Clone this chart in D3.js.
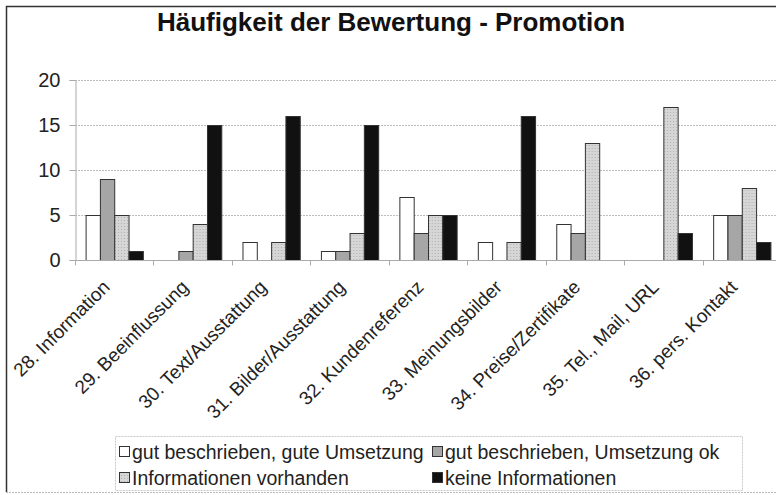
<!DOCTYPE html>
<html><head><meta charset="utf-8">
<script src="https://cdn.jsdelivr.net/npm/d3@7"></script>
<style>body{margin:0;background:#fff}svg{display:block}text{font-family:"Liberation Sans",Arial,sans-serif}</style>
</head><body>
<script>
const title = "Häufigkeit der Bewertung - Promotion";
const categories = ["28. Information","29. Beeinflussung","30. Text/Ausstattung","31. Bilder/Ausstattung","32. Kundenreferenz","33. Meinungsbilder","34. Preise/Zertifikate","35. Tel., Mail, URL","36. pers. Kontakt"];
const seriesNames = ["gut beschrieben, gute Umsetzung","gut beschrieben, Umsetzung ok","Informationen vorhanden","keine Informationen"];
const gutGut = [5,0,2,1,7,2,4,0,5];
const gutOk = [9,1,0,1,3,0,3,0,5];
const vorhanden = [5,4,2,3,5,2,13,17,8];
const keine = [1,15,16,15,5,16,0,3,2];
const yTicks = [0,5,10,15,20];
const seriesValues = [gutGut, gutOk, vorhanden, keine];
const fills = ["#ffffff","#a6a6a6","url(#dots)","#111111"];

const W = 776, H = 495;
const svg = d3.select("body").append("svg").attr("width", W).attr("height", H);
const defs = svg.append("defs");
const pat = defs.append("pattern").attr("id","dots").attr("width",3).attr("height",3).attr("patternUnits","userSpaceOnUse");
pat.append("rect").attr("width",3).attr("height",3).attr("fill","#d6d6d6");
pat.append("rect").attr("x",1).attr("y",1).attr("width",1).attr("height",1).attr("fill","#b0b0b0");

// frame
svg.append("line").attr("x1",6).attr("x2",W).attr("y1",6.5).attr("y2",6.5).attr("stroke","#333").attr("stroke-width",1.5);
svg.append("line").attr("x1",6.5).attr("x2",6.5).attr("y1",6).attr("y2",492).attr("stroke","#333").attr("stroke-width",1.5);
svg.append("line").attr("x1",6).attr("x2",W).attr("y1",492.5).attr("y2",492.5).attr("stroke","#bbb").attr("stroke-dasharray","2,1");

svg.append("text").attr("x",391).attr("y",31).attr("text-anchor","middle")
  .attr("font-size",26).attr("font-weight","bold").attr("fill","#111").text(title);

const x0 = d3.scaleBand().domain(categories).range([75, 781]).paddingInner(0).paddingOuter(0);
const x1 = d3.scaleBand().domain(d3.range(4)).range([0, x0.bandwidth()]).paddingInner(0).paddingOuter(0.74);
const y = d3.scaleLinear().domain([0,20]).range([260, 80]);

// gridlines
svg.append("g").selectAll("line").data(yTicks.filter(d=>d>0)).join("line")
  .attr("x1",75).attr("x2",W).attr("y1",d=>y(d)+0.5).attr("y2",d=>y(d)+0.5)
  .attr("stroke","#bdbdbd").attr("stroke-dasharray","2,1");

// y axis
const yAxis = svg.append("g").attr("transform","translate(75.5,0)")
  .call(d3.axisLeft(y).tickValues(yTicks).tickSize(6).tickPadding(9));
yAxis.select(".domain").attr("stroke","#aaa");
yAxis.selectAll(".tick line").attr("stroke","#aaa");
yAxis.selectAll("text").attr("font-size",20).attr("fill","#222").attr("font-family","Liberation Sans, Arial, sans-serif");

// bars
const groups = svg.append("g").selectAll("g").data(categories).join("g")
  .attr("transform", d => `translate(${x0(d)},0)`);
groups.selectAll("rect").data((d,i) => seriesValues.map((s,k)=>({k, v:s[i]}))).join("rect")
  .filter(d => d.v > 0)
  .attr("x", d => x1(d.k)+0.5).attr("width", x1.bandwidth())
  .attr("y", d => y(d.v)+0.5).attr("height", d => y(0)-y(d.v))
  .attr("fill", d => fills[d.k]).attr("stroke","#333").attr("stroke-width",1);

// x axis
const xAxis = svg.append("g").attr("transform","translate(0,260.5)");
xAxis.append("line").attr("x1",75).attr("x2",W).attr("stroke","#aaa");
xAxis.selectAll("line.t").data(categories).join("line").attr("class","t")
  .attr("x1",d=>Math.round(x0(d))+0.5).attr("x2",d=>Math.round(x0(d))+0.5).attr("y1",0).attr("y2",5).attr("stroke","#aaa");
xAxis.selectAll("text").data(categories).join("text")
  .attr("transform", d => `translate(${x0(d)+x0.bandwidth()/2-8},${23}) rotate(-45)`)
  .attr("text-anchor","end").attr("dy","0.35em").attr("font-size",19).attr("fill","#222").text(d=>d);

// legend
const lg = svg.append("g");
lg.append("rect").attr("x",115.5).attr("y",436.5).attr("width",627).attr("height",54)
  .attr("fill","none").attr("stroke","#c8c8c8").attr("stroke-dasharray","2,1");
const pos = [[119,452],[432,452],[119,478],[432,478]];
seriesNames.forEach((n,k)=>{
  lg.append("rect").attr("x",pos[k][0]+0.5).attr("y",pos[k][1]-5.5).attr("width",10).attr("height",10)
    .attr("fill",fills[k]).attr("stroke","#333");
  lg.append("text").attr("x",pos[k][0]+13).attr("y",pos[k][1]).attr("dy","0.35em")
    .attr("font-size",19.5).attr("fill","#222").text(n);
});
</script>
</body></html>
